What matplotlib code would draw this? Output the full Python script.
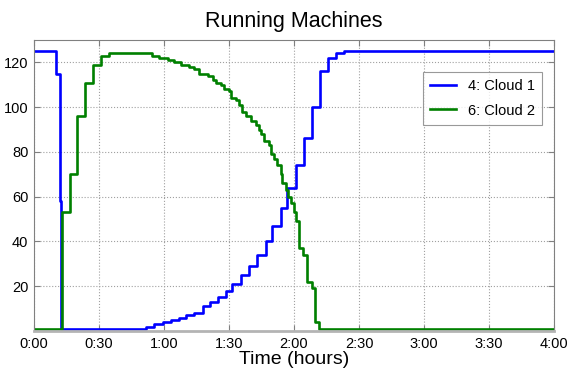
import matplotlib
matplotlib.use("Agg")
import matplotlib.pyplot as plt

# Data: step change times (minutes) and new values
cloud1_t = [0, 10.1, 12.0, 12.3, 51.8, 55.6, 59.5, 63.3, 67.1, 70.2, 74.0, 77.8, 81.0, 84.7,
            88.6, 91.6, 95.5, 99.3, 103.1, 107.0, 110.0, 113.9, 116.9, 120.8, 124.6, 128.4,
            132.0, 135.6, 139.4, 143.0, 240]
cloud1_v = [125, 115, 58, 1, 2, 3, 4, 5, 6, 7, 8, 11, 13, 15,
            18, 21, 25, 29, 34, 40, 47, 55, 64, 74, 86, 100,
            116, 122, 124, 125, 125]

cloud2_t = [0, 13.0, 16.4, 19.9, 23.6, 27.1, 30.8, 34.6, 54.6, 57.9, 61.8, 64.8, 67.9, 71.4,
            74.0, 76.3, 80.1, 82.4, 84.0, 86.3, 87.8, 90.1, 90.9, 93.2, 94.7, 96.2, 97.8,
            100.1, 102.4, 103.9, 104.7, 106.2, 108.5, 109.3, 110.8, 112.3, 113.9, 114.6,
            116.2, 117.4, 118.5, 120.0, 120.8, 122.3, 124.0, 126.1, 128.4, 129.6, 131.7, 240]
cloud2_v = [1, 53, 70, 96, 111, 119, 123, 124, 123, 122, 121, 120, 119, 118,
            117, 115, 114, 112, 111, 110, 108, 107, 104, 103, 101, 98, 96,
            94, 92, 90, 88, 85, 83, 79, 77, 74, 70, 66,
            63, 60, 57, 53, 49, 37, 34, 22, 19, 4, 1, 1]

series_labels = ["4: Cloud 1", "6: Cloud 2"]
xtick_minutes = [0, 30, 60, 90, 120, 150, 180, 210, 240]
xtick_labels = ["0:00", "0:30", "1:00", "1:30", "2:00", "2:30", "3:00", "3:30", "4:00"]
ytick_values = [20, 40, 60, 80, 100, 120]

plt.rcParams['font.family'] = ['Liberation Sans', 'DejaVu Sans']

fig = plt.figure(figsize=(5.71, 3.73), dpi=100)
ax = fig.add_axes([34/571, 1 - 331/373, 520/571, 291/373])

ax.step(cloud1_t, cloud1_v, where='post', color='#0000ff', lw=1.9, label=series_labels[0])
ax.step(cloud2_t, cloud2_v, where='post', color='#008000', lw=1.9, label=series_labels[1])

ax.set_xlim(0, 240)
ax.set_ylim(0, 130)
ax.set_xticks(xtick_minutes)
ax.set_xticklabels(xtick_labels)
ax.set_yticks(ytick_values)
ax.tick_params(direction='in', top=True, right=True, labelsize=10.5, length=4,
               color='#808080', pad=4)
ax.grid(True, linestyle=':', color='#a0a0a0', lw=0.8)
for s in ['left', 'right', 'top']:
    ax.spines[s].set_color('#808080')
ax.spines['bottom'].set_color('#b4b4b4')
ax.spines['bottom'].set_linewidth(2)

ax.set_title("Running Machines", fontsize=15.5, pad=9)
ax.set_xlabel("Time (hours)", fontsize=14, labelpad=0)

leg = ax.legend(loc='upper right', bbox_to_anchor=(0.977, 0.89), borderaxespad=0,
                fancybox=False, fontsize=10.5, handlelength=1.8, labelspacing=0.7,
                borderpad=0.5, frameon=True)
leg.get_frame().set_edgecolor('#808080')
leg.get_frame().set_linewidth(0.8)

fig.savefig("out.png", dpi=100)
